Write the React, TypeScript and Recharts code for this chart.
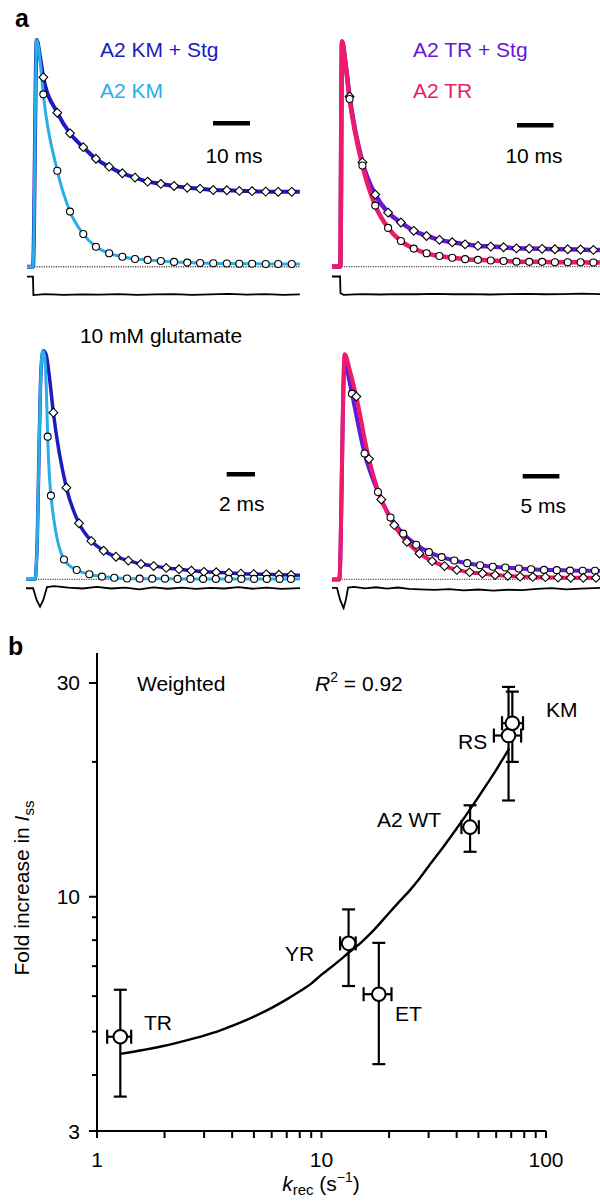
import React from "react";
import { ComposedChart, Line, Scatter, XAxis, YAxis, ReferenceLine, ErrorBar } from "recharts";

const FONT = '"Liberation Sans", Arial, Helvetica, sans-serif';
const DARK_BLUE = "#1b1bbf";
const LIGHT_BLUE = "#29aee6";
const PURPLE = "#6519d2";
const PINK = "#ee1a6b";

// ---------- panel a, top left: A2 KM +/- Stg, 10 ms window ----------
const tlT = [4.45, 8.26, 11.73, 15.35, 18.8, 22.4, 26.0, 29.45, 32.9, 36.5, 40.1, 43.7, 47.2, 50.8, 54.5, 57.9, 61.4, 65.1, 68.5, 72.2];
const tlStg = [0.835, 0.679, 0.588, 0.527, 0.476, 0.441, 0.412, 0.393, 0.375, 0.365, 0.356, 0.348, 0.344, 0.338, 0.337, 0.334, 0.333, 0.331, 0.33, 0.33];
const tlKm = [0.76, 0.423, 0.243, 0.144, 0.088, 0.059, 0.044, 0.034, 0.03, 0.025, 0.021, 0.018, 0.016, 0.015, 0.014, 0.013, 0.013, 0.012, 0.012, 0.012];
const tlLeadT = [0, 1.64, 2.65, 3.55];
const tlStgLead = [0, 0, 1.0, 0.926];
const tlKmLead = [0, 0, 1.0, 0.91];
const tlEndT = [74.4];
const tlStgEnd = [0.33];
const tlKmEnd = [0.012];
const tlJunctionT = [0, 1.62, 1.75, 5, 10, 15, 20, 25, 30, 35, 40, 45, 50, 55, 60, 65, 70, 74.4];
const tlJunction = [-0.044, -0.044, -0.125, -0.121, -0.124, -0.122, -0.123, -0.121, -0.124, -0.122, -0.121, -0.124, -0.122, -0.12, -0.123, -0.121, -0.124, -0.122];

// ---------- panel a, top right: A2 TR +/- Stg, 10 ms window ----------
const trT = [4.8, 8.3, 11.8, 15.3, 18.8, 22.3, 25.8, 29.3, 32.8, 36.3, 39.8, 43.3, 46.8, 50.3, 53.8, 57.3, 60.8, 64.3, 67.8, 71.3];
const trStg = [0.756, 0.464, 0.32, 0.24, 0.196, 0.159, 0.136, 0.119, 0.108, 0.099, 0.092, 0.089, 0.086, 0.081, 0.08, 0.079, 0.077, 0.077, 0.076, 0.074];
const trTr = [0.745, 0.449, 0.271, 0.172, 0.114, 0.08, 0.059, 0.047, 0.039, 0.033, 0.03, 0.027, 0.025, 0.022, 0.021, 0.021, 0.019, 0.019, 0.019, 0.018];
const trLeadT = [0, 2.26, 2.73, 3.63];
const trStgLead = [0, 0, 1.0, 0.91];
const trTrLead = [0, 0, 1.0, 0.904];
const trEndT = [73.1];
const trStgEnd = [0.074];
const trTrEnd = [0.018];
const trJunctionT = [0, 2.2, 2.32, 3.2, 8, 13, 18, 23, 28, 33, 38, 43, 48, 53, 58, 63, 68, 73.1];
const trJunction = [-0.044, -0.044, -0.118, -0.126, -0.122, -0.124, -0.122, -0.123, -0.121, -0.123, -0.122, -0.124, -0.122, -0.121, -0.123, -0.122, -0.12, -0.122];

// ---------- panel a, bottom left: 10 mM glutamate, 2 ms window ----------
const blKmT = [1.53, 1.76, 2.68, 3.58, 4.47, 5.36, 6.23, 7.13, 8.02, 8.91, 9.81, 10.7, 11.6, 12.5, 13.4, 14.3, 15.2, 16.1, 17.0, 17.9, 18.7];
const blKm = [0.624, 0.366, 0.087, 0.041, 0.022, 0.012, 0.007, 0.004, 0.003, 0.003, 0.003, 0.002, 0.002, 0.002, 0.002, 0.002, 0.002, 0.002, 0.002, 0.002, 0.002];
const blStgT = [1.93, 2.85, 3.74, 4.61, 5.48, 6.35, 7.22, 8.12, 9.01, 9.9, 10.8, 11.67, 12.56, 13.43, 14.33, 15.17, 16.07, 16.96, 17.85, 18.72];
const blStg = [0.729, 0.401, 0.245, 0.168, 0.125, 0.099, 0.082, 0.067, 0.058, 0.05, 0.044, 0.038, 0.033, 0.031, 0.028, 0.025, 0.023, 0.022, 0.02, 0.019];
const blKmLeadT = [0, 0.635, 0.8, 0.94, 1.06, 1.18, 1.32, 1.43];
const blKmLead = [0, 0, 0.187, 0.624, 0.915, 1.0, 0.974, 0.843];
const blStgLeadT = [0, 0.635, 0.8, 0.94, 1.06, 1.22, 1.41, 1.65];
const blStgLead = [0, 0, 0.187, 0.624, 0.915, 1.0, 0.985, 0.886];
const blEndT = [19.34];
const blStgEnd = [0.018];
const blKmEnd = [0.002];
const blJunctionT = [0, 0.5, 0.75, 0.99, 1.22, 1.48, 2, 3, 4, 5, 6, 7, 8, 9, 10, 11, 12, 13, 14, 15, 16, 17, 18, 19.34];
const blJunction = [-0.039, -0.039, -0.09, -0.12, -0.09, -0.034, -0.03, -0.036, -0.04, -0.033, -0.04, -0.036, -0.044, -0.035, -0.041, -0.036, -0.042, -0.037, -0.04, -0.034, -0.041, -0.036, -0.042, -0.038];

// ---------- panel a, bottom right: 10 mM glutamate, 5 ms window ----------
const brStgT = [2.73, 4.45, 6.28, 7.99, 9.73, 11.5, 13.23, 14.98, 16.7, 18.46, 20.23, 21.96, 23.68, 25.51, 27.19, 28.96, 30.7, 32.51, 34.24, 35.92];
const brStg = [0.825, 0.559, 0.388, 0.275, 0.203, 0.154, 0.121, 0.099, 0.084, 0.072, 0.063, 0.056, 0.053, 0.048, 0.045, 0.042, 0.041, 0.039, 0.038, 0.038];
const brTrT = [3.32, 5.05, 6.73, 8.5, 10.23, 11.95, 13.68, 15.36, 17.05, 18.8, 20.55, 22.28, 24.0, 25.69, 27.42, 29.14, 30.87, 32.6, 34.32, 36.06];
const brTr = [0.812, 0.535, 0.355, 0.241, 0.167, 0.115, 0.081, 0.059, 0.042, 0.032, 0.026, 0.019, 0.016, 0.012, 0.011, 0.01, 0.008, 0.007, 0.007, 0.007];
const brStgLeadT = [0, 1.0, 1.68, 1.95, 2.26];
const brStgLead = [0, 0, 0.94, 0.96, 0.9];
const brTrLeadT = [0, 1.0, 1.72, 2.5];
const brTrLead = [0, 0, 1.0, 0.92];
const brEndT = [36.6];
const brStgEnd = [0.037];
const brTrEnd = [0.007];
const brJunctionT = [0, 0.68, 1.1, 1.58, 1.9, 2.2, 3, 4.5, 6, 7.5, 9, 10.5, 12, 14, 16, 18, 20, 22, 24, 26, 28, 30, 32, 34, 36.6];
const brJunction = [-0.038, -0.038, -0.09, -0.128, -0.09, -0.036, -0.033, -0.04, -0.035, -0.041, -0.036, -0.042, -0.044, -0.047, -0.043, -0.049, -0.045, -0.05, -0.046, -0.048, -0.042, -0.039, -0.044, -0.041, -0.038];

// ---------- panel b ----------
const mutants = ["TR", "YR", "ET", "A2 WT", "RS", "KM"];
const kRec = [1.27, 13.2, 18.0, 45.9, 68.1, 70.8];
const kRecLow = [1.11, 12.1, 15.4, 42.0, 58.6, 63.7];
const kRecHigh = [1.42, 14.2, 20.5, 50.2, 77.5, 79.0];
const foldIss = [4.87, 7.87, 6.06, 14.3, 22.9, 24.4];
const foldLow = [3.58, 6.32, 4.23, 12.6, 16.4, 20.0];
const foldHigh = [6.2, 9.37, 7.89, 16.0, 29.4, 28.7];
const fitK = [1.27, 1.6, 2, 2.5, 3, 3.5, 4, 5, 6, 7, 8, 9, 10, 11, 12, 13, 15, 17, 20, 22, 25, 27, 30, 35, 40, 45, 50, 55, 60, 65, 68.5];
const fitFold = [4.46, 4.55, 4.65, 4.78, 4.9, 5.02, 5.15, 5.4, 5.65, 5.9, 6.15, 6.4, 6.7, 6.95, 7.2, 7.45, 7.9, 8.4, 9.2, 9.7, 10.4, 10.9, 11.7, 12.95, 14.2, 15.45, 16.7, 17.95, 19.2, 20.5, 21.4];
const xTicks = [1, 2, 3, 4, 5, 6, 7, 8, 9, 10, 20, 30, 40, 50, 60, 70, 80, 90, 100];
const yTicks = [3, 4, 5, 6, 7, 8, 9, 10, 20, 30];
const xLabelled = [1, 10, 100];
const yLabelled = [3, 10, 30];

const zip = (ts: number[], vs: number[]) => ts.map((t, i) => ({ t, v: vs[i] }));

const WhiteCircle = (props: any) => {
  const { cx, cy } = props;
  if (cx == null || cy == null) return null;
  return <circle cx={cx} cy={cy} r={3.5} fill="#fff" stroke="#000" strokeWidth={1.1} />;
};

const WhiteDiamond = (props: any) => {
  const { cx, cy } = props;
  if (cx == null || cy == null) return null;
  const d = 4.4;
  return <path d={`M${cx},${cy - d}L${cx + d},${cy}L${cx},${cy + d}L${cx - d},${cy}Z`} fill="#fff" stroke="#000" strokeWidth={1.1} />;
};

interface Trace { data: { t: number; v: number }[]; color: string; width: number }
interface Markers { data: { t: number; v: number }[]; diamond?: boolean }

interface PanelProps {
  left: number;
  top: number;
  width: number;
  height: number;
  tMax: number;
  yDomain: [number, number];
  junction: { t: number; v: number }[];
  traces: Trace[];
  markers: Markers[];
}

function TracePanel({ left, top, width, height, tMax, yDomain, junction, traces, markers }: PanelProps) {
  return (
    <div style={{ position: "absolute", left, top }}>
      <ComposedChart width={width} height={height} margin={{ top: 0, right: 0, bottom: 0, left: 0 }}>
        <XAxis dataKey="t" type="number" domain={[0, tMax]} allowDataOverflow hide />
        <YAxis type="number" domain={yDomain} allowDataOverflow hide />
        <ReferenceLine y={0} stroke="#555" strokeDasharray="1.2 1.2" strokeWidth={1.4} />
        <Line data={junction} dataKey="v" type="linear" stroke="#000" strokeWidth={1.8} dot={false} isAnimationActive={false} />
        {traces.map((tr, i) => (
          <Line
            key={"tr" + i}
            data={tr.data}
            dataKey="v"
            type="monotone"
            stroke={tr.color}
            strokeWidth={tr.width}
            strokeLinejoin="round"
            dot={false}
            isAnimationActive={false}
          />
        ))}
        {markers.map((m, i) => (
          <Scatter
            key={"m" + i}
            data={m.data}
            dataKey="v"
            shape={m.diamond ? WhiteDiamond : WhiteCircle}
            isAnimationActive={false}
          />
        ))}
      </ComposedChart>
    </div>
  );
}

const XTick = (props: any) => {
  const { x, y, payload } = props;
  const v = payload.value;
  return (
    <g>
      <line x1={x} x2={x} y1={y} y2={y + 7} stroke="#000" strokeWidth={2} />
      {xLabelled.includes(v) && (
        <text x={x} y={y + 36} textAnchor="middle" fontSize={21} fontFamily={FONT} fill="#000">
          {v}
        </text>
      )}
    </g>
  );
};

const YTick = (props: any) => {
  const { x, y, payload } = props;
  const v = payload.value;
  const major = yLabelled.includes(v);
  return (
    <g>
      <line x1={x} x2={x - (major ? 8 : 5)} y1={y} y2={y} stroke="#000" strokeWidth={2} />
      {major && (
        <text x={x - 17} y={y + 7.5} textAnchor="end" fontSize={21} fontFamily={FONT} fill="#000">
          {v}
        </text>
      )}
    </g>
  );
};

const BigCircle = (props: any) => {
  const { cx, cy } = props;
  if (cx == null || cy == null) return null;
  return <circle cx={cx} cy={cy} r={6.8} fill="#fff" stroke="#000" strokeWidth={2} />;
};

function PanelB() {
  const points = mutants.map((name, i) => ({
    name,
    k: kRec[i],
    fold: foldIss[i],
    ex: [kRec[i] - kRecLow[i], kRecHigh[i] - kRec[i]],
    ey: [foldIss[i] - foldLow[i], foldHigh[i] - foldIss[i]],
  }));
  const fit = fitK.map((k, i) => ({ k, fold: fitFold[i] }));
  return (
    <div style={{ position: "absolute", left: 0, top: 630 }}>
      <ComposedChart width={600} height={572} margin={{ top: 23, right: 54, bottom: 31, left: 37 }}>
        <XAxis
          dataKey="k"
          type="number"
          scale="log"
          domain={[1, 100]}
          ticks={xTicks}
          interval={0}
          allowDataOverflow
          height={40}
          tickSize={0}
          tickMargin={0}
          tick={<XTick />}
          axisLine={{ stroke: "#000", strokeWidth: 2 }}
        />
        <YAxis
          type="number"
          scale="log"
          domain={[3, 35]}
          ticks={yTicks}
          interval={0}
          allowDataOverflow
          width={60}
          tickSize={0}
          tickMargin={0}
          tick={<YTick />}
          axisLine={{ stroke: "#000", strokeWidth: 2 }}
        />
        <Line data={fit} dataKey="fold" type="monotone" stroke="#000" strokeWidth={2.4} dot={false} isAnimationActive={false} />
        <Scatter data={points} dataKey="fold" shape={BigCircle} isAnimationActive={false}>
          <ErrorBar dataKey="ey" direction="y" width={6.5} stroke="#000" strokeWidth={2.2} />
          <ErrorBar dataKey="ex" direction="x" width={7} stroke="#000" strokeWidth={2.2} />
        </Scatter>
      </ComposedChart>
    </div>
  );
}

export default function App() {
  const txt = { fontFamily: FONT, fontSize: 21 } as const;
  return (
    <div style={{ position: "absolute", left: 0, top: 0, width: 600, height: 1202, background: "#fff", overflow: "hidden" }}>
      <TracePanel
        left={27}
        top={0}
        width={273}
        height={310}
        tMax={74.45}
        yDomain={[-0.191, 1.176]}
        junction={zip(tlJunctionT, tlJunction)}
        traces={[
          { data: zip([...tlLeadT, ...tlT, ...tlEndT], [...tlStgLead, ...tlStg, ...tlStgEnd]), color: DARK_BLUE, width: 4 },
          { data: zip([...tlLeadT, ...tlT, ...tlEndT], [...tlKmLead, ...tlKm, ...tlKmEnd]), color: LIGHT_BLUE, width: 3 },
        ]}
        markers={[{ data: zip(tlT, tlStg), diamond: true }, { data: zip(tlT, tlKm) }]}
      />
      <TracePanel
        left={332}
        top={0}
        width={268}
        height={310}
        tMax={73.1}
        yDomain={[-0.193, 1.185]}
        junction={zip(trJunctionT, trJunction)}
        traces={[
          { data: zip([...trLeadT, ...trT, ...trEndT], [...trStgLead, ...trStg, ...trStgEnd]), color: PURPLE, width: 4.5 },
          { data: zip([...trLeadT, ...trT, ...trEndT], [...trTrLead, ...trTr, ...trTrEnd]), color: PINK, width: 4.5 },
        ]}
        markers={[{ data: zip(trT, trStg), diamond: true }, { data: zip(trT, trTr) }]}
      />
      <TracePanel
        left={26}
        top={320}
        width={274}
        height={290}
        tMax={19.34}
        yDomain={[-0.134, 1.134]}
        junction={zip(blJunctionT, blJunction)}
        traces={[
          { data: zip([...blStgLeadT, ...blStgT, ...blEndT], [...blStgLead, ...blStg, ...blStgEnd]), color: DARK_BLUE, width: 3.5 },
          { data: zip([...blKmLeadT, ...blKmT, ...blEndT], [...blKmLead, ...blKm, ...blKmEnd]), color: LIGHT_BLUE, width: 3 },
        ]}
        markers={[{ data: zip(blStgT, blStg), diamond: true }, { data: zip(blKmT, blKm) }]}
      />
      <TracePanel
        left={332}
        top={320}
        width={268}
        height={290}
        tMax={36.6}
        yDomain={[-0.136, 1.152]}
        junction={zip(brJunctionT, brJunction)}
        traces={[
          { data: zip([...brStgLeadT, ...brStgT, ...brEndT], [...brStgLead, ...brStg, ...brStgEnd]), color: PURPLE, width: 4 },
          { data: zip([...brTrLeadT, ...brTrT, ...brEndT], [...brTrLead, ...brTr, ...brTrEnd]), color: PINK, width: 4 },
        ]}
        markers={[{ data: zip(brStgT, brStg) }, { data: zip(brTrT, brTr), diamond: true }]}
      />
      <PanelB />

      <svg width={600} height={1202} style={{ position: "absolute", left: 0, top: 0, pointerEvents: "none" }}>
        <text x={15} y={27} fontFamily={FONT} fontSize={25} fontWeight="bold">a</text>
        <text x={8} y={655} fontFamily={FONT} fontSize={25} fontWeight="bold">b</text>

        <text x={100} y={57} {...txt} fill={DARK_BLUE}>A2 KM + Stg</text>
        <text x={100} y={98} {...txt} fill={LIGHT_BLUE}>A2 KM</text>
        <rect x={213} y={121} width={37} height={4.5} fill="#000" />
        <text x={234} y={163} {...txt} textAnchor="middle">10 ms</text>

        <text x={413} y={57} {...txt} fill={PURPLE}>A2 TR + Stg</text>
        <text x={413} y={98} {...txt} fill={PINK}>A2 TR</text>
        <rect x={517} y={123} width={36.5} height={4.5} fill="#000" />
        <text x={534} y={163} {...txt} textAnchor="middle">10 ms</text>

        <text x={161} y={343} {...txt} textAnchor="middle">10 mM glutamate</text>
        <rect x={226.7} y={472} width={28.3} height={4.5} fill="#000" />
        <text x={241.7} y={511} {...txt} textAnchor="middle">2 ms</text>
        <rect x={522.7} y={474} width={36.7} height={4.5} fill="#000" />
        <text x={543.3} y={513} {...txt} textAnchor="middle">5 ms</text>

        <text x={137} y={691} {...txt}>Weighted</text>
        <text x={315} y={691} {...txt}>
          <tspan fontStyle="italic">R</tspan>
          <tspan fontSize={14} dy={-9}>2</tspan>
          <tspan dy={9}> = 0.92</tspan>
        </text>
        <text x={546} y={717} {...txt}>KM</text>
        <text x={458} y={749} {...txt}>RS</text>
        <text x={377} y={827} {...txt}>A2 WT</text>
        <text x={285} y={961} {...txt}>YR</text>
        <text x={144} y={1030} {...txt}>TR</text>
        <text x={395} y={1021} {...txt}>ET</text>

        <text transform="translate(29,888) rotate(-90)" {...txt} textAnchor="middle">
          Fold increase in <tspan fontStyle="italic">I</tspan>
          <tspan fontSize={15} dy={5}>ss</tspan>
        </text>
        <text x={321} y={1191} {...txt} textAnchor="middle">
          <tspan fontStyle="italic">k</tspan>
          <tspan fontSize={15} dy={4}>rec</tspan>
          <tspan dy={-4}> (s</tspan>
          <tspan fontSize={14} dy={-9}>−1</tspan>
          <tspan dy={9}>)</tspan>
        </text>
      </svg>
    </div>
  );
}
